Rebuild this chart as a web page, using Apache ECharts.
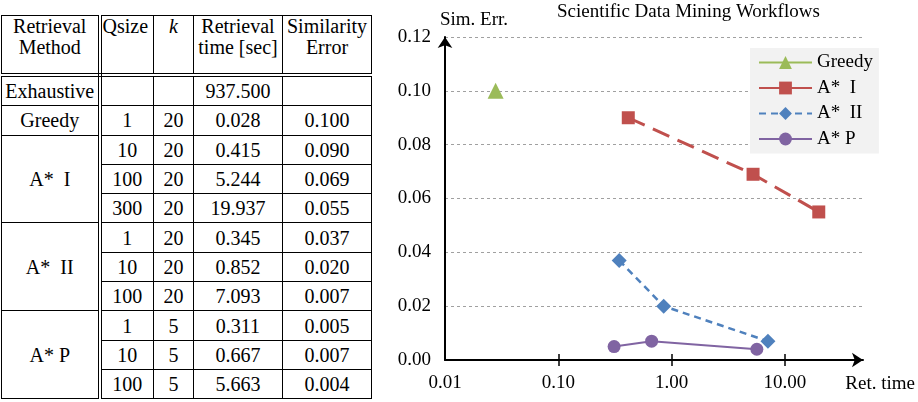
<!DOCTYPE html>
<html>
<head>
<meta charset="utf-8">
<script src="https://cdn.jsdelivr.net/npm/echarts@6/dist/echarts.min.js"></script>
<style>
  body { margin: 0; width: 918px; height: 402px; background: #fff; position: relative; overflow: hidden; }
  #tbl { position: absolute; left: 1px; top: 15px; width: 370px; table-layout: fixed; border-collapse: collapse;
         font-family: "Liberation Serif", "Times New Roman", serif; font-size: 20px; color: #000; }
  #tbl td { border: 1px solid #000; text-align: center; padding: 0; height: 28.3px; line-height: 20px;
            font-family: "Liberation Serif", "Times New Roman", serif; white-space: nowrap; }
  #tbl tr.head td { height: 57px; vertical-align: top; line-height: 21px; border-bottom: 4px double #000; }
  #tbl td.meth { border-right: 4px double #000; }
  #chart { position: absolute; left: 380px; top: 0; width: 538px; height: 402px; }
</style>
</head>
<body>
<table id="tbl"></table>
<div id="chart"></div>
<script>
  // table rows (same values are used for the chart)
  var methodNames = ['Exhaustive', 'Greedy', 'A*  I', 'A*  II', 'A* P']
  var methodSpans = [1, 1, 3, 3, 3]
  var qsizes   = ['', '1', '10', '100', '300', '1', '10', '100', '1', '10', '100']
  var kValues  = ['', '20', '20', '20', '20', '20', '20', '20', '5', '5', '5']
  var retTimes = ['937.500', '0.028', '0.415', '5.244', '19.937', '0.345', '0.852', '7.093', '0.311', '0.667', '5.663']
  var simErrs  = ['', '0.100', '0.090', '0.069', '0.055', '0.037', '0.020', '0.007', '0.005', '0.007', '0.004']
  var colWidths = [98, 54, 40, 89, 89]

  var seriesColors = ['#9bbb59', '#c0504d', '#4f81bd', '#8064a2']
  var xTickVals = [0.01, 0.1, 1, 10]

  var fontFam = '"Liberation Serif", "Times New Roman", serif'

  // ---- table ----
  var tbl = document.getElementById('tbl')
  var html = '<colgroup>'
  for (var c = 0; c < colWidths.length; c++) html += '<col style="width:' + colWidths[c] + 'px">'
  html += '</colgroup>'
  html += '<tr class="head">' +
    '<td class="meth">Retrieval<br>Method</td>' +
    '<td style="text-align:left;padding-left:1px">Qsize</td>' +
    '<td><i>k</i></td>' +
    '<td>Retrieval<br>time [sec]</td>' +
    '<td>Similarity<br>Error</td></tr>'
  var r = 0
  for (var m = 0; m < methodNames.length; m++) {
    for (var j = 0; j < methodSpans[m]; j++) {
      html += '<tr>'
      if (j === 0) {
        html += '<td class="meth" rowspan="' + methodSpans[m] + '">' + methodNames[m].replace(/ /g, '&nbsp;') + '</td>'
      }
      html += '<td>' + qsizes[r] + '</td><td>' + kValues[r] + '</td><td>' + retTimes[r] + '</td><td>' + simErrs[r] + '</td></tr>'
      r++
    }
  }
  tbl.innerHTML = html

  // ---- chart data: every method except Exhaustive ----
  var chartSeries = []
  var start = methodSpans[0]
  for (var i = 1; i < methodNames.length; i++) {
    var pts = []
    for (var q = 0; q < methodSpans[i]; q++) {
      pts.push([parseFloat(retTimes[start + q]), parseFloat(simErrs[start + q])])
    }
    chartSeries.push(pts)
    start += methodSpans[i]
  }

  var symbols = ['triangle', 'rect', 'diamond', 'circle']
  var symSizes = [16, 13, 15, 13]
  var lineTypes = ['solid', [18, 9], [7, 5], 'solid']
  var lineWidths = [3, 3, 2.5, 2]

  var series = []
  for (var s = 0; s < chartSeries.length; s++) {
    series.push({
      name: methodNames[s + 1],
      type: 'line',
      data: chartSeries[s],
      symbol: symbols[s],
      symbolSize: symSizes[s],
      itemStyle: { color: seriesColors[s] },
      lineStyle: { color: seriesColors[s], width: lineWidths[s], type: lineTypes[s] }
    })
  }

  var myChart = echarts.init(document.getElementById('chart'))
  myChart.setOption({
    animation: false,
    title: {
      text: 'Scientific Data Mining Workflows',
      left: 177, top: 3, padding: 0,
      textStyle: { fontFamily: fontFam, fontSize: 19, fontWeight: 'normal', color: '#000' }
    },
    legend: {
      orient: 'vertical',
      left: 370, top: 48,
      padding: [5, 6, 5, 8],
      backgroundColor: '#f2f2f2',
      itemWidth: 53, itemHeight: 16, itemGap: 6.5,
      textStyle: { fontFamily: fontFam, fontSize: 19, color: '#000' },
      data: [
        { name: methodNames[1] },
        { name: methodNames[2], lineStyle: { type: 'solid' } },
        { name: methodNames[3] },
        { name: methodNames[4] }
      ]
    },
    grid: { left: 65, right: 52, top: 37, bottom: 42 },
    xAxis: [{
      type: 'log', logBase: 10, min: 0.01, max: 49,
      name: 'Ret. time', nameLocation: 'end', nameGap: 52,
      nameTextStyle: { fontFamily: fontFam, fontSize: 19, color: '#000', align: 'right', verticalAlign: 'top', padding: [15, 0, 0, 0] },
      axisLine: { onZero: false, symbol: ['none', 'arrow'], symbolSize: [11, 11], lineStyle: { color: '#000', width: 2 } },
      axisTick: { show: true, length: 6, customValues: xTickVals.slice(1), lineStyle: { color: '#000', width: 1.5 } },
      axisLabel: { customValues: xTickVals, margin: 14, color: '#000', fontFamily: fontFam, fontSize: 19,
        formatter: function (v) { return v.toFixed(2) } },
      splitLine: { show: false }
    }, {
      type: 'log', logBase: 10, min: 0.01, max: 49, position: 'bottom',
      axisLine: { show: false },
      axisTick: { show: true, inside: true, length: 6, customValues: xTickVals.slice(1), lineStyle: { color: '#000', width: 1.5 } },
      axisLabel: { show: false },
      splitLine: { show: false }
    }],
    yAxis: {
      type: 'value', min: 0, max: 0.12, interval: 0.02,
      name: 'Sim. Err.', nameLocation: 'end', nameGap: 7,
      nameTextStyle: { fontFamily: fontFam, fontSize: 19, color: '#000', align: 'left', padding: [0, 0, 0, -5] },
      axisLine: { show: true, onZero: false, symbol: ['none', 'arrow'], symbolSize: [11, 11], lineStyle: { color: '#000', width: 2 } },
      axisTick: { show: false },
      axisLabel: { margin: 14, color: '#000', fontFamily: fontFam, fontSize: 19,
        formatter: function (v) { return v.toFixed(2) } },
      splitLine: { lineStyle: { color: '#a0a0a0', width: 1, type: [3, 3] } }
    },
    series: series
  })
</script>
</body>
</html>
